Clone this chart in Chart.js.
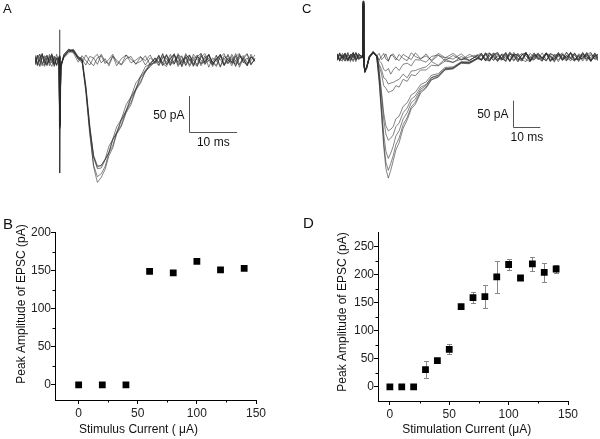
<!DOCTYPE html>
<html>
<head>
<meta charset="utf-8">
<title>EPSC input-output</title>
<script src="https://cdn.jsdelivr.net/npm/chart.js@4.4.1/dist/chart.umd.min.js"></script>
<style>
  body { margin: 0; background: #fff; }
  #fig { position: relative; width: 600px; height: 439px; background: #fff; }
  #fig canvas { position: absolute; }
</style>
</head>
<body>
<div id="fig">
  <canvas id="panelA" width="300" height="200" style="left:0;top:0"></canvas>
  <canvas id="panelC" width="300" height="200" style="left:300px;top:0"></canvas>
  <canvas id="panelB" width="300" height="239" style="left:0;top:200px"></canvas>
  <canvas id="panelD" width="300" height="239" style="left:300px;top:200px"></canvas>
</div>
<script>
// ----------------------------
// Panel A sweeps (ms, pA)
// ----------------------------
const timeA = [0,0.5,1,1.5,2,2.5,3,3.5,4,4.5,5, 5.1,5.2,5.4, 6,7,8,9,
  9.8,10.6,11.4,12.2,13,13.8,14.6,15.4,16.2,17,18,19,20,21,22,23,24,25,
  25.8,26.6,27.4,28.2,29,29.8,30.6,31.4,32.2,33,33.8,34.6,35.4,36.2,37,37.8,38.6,39.4,40.2,41,41.8,42.6,43.4,44.2,45,45.8];

const sweepA1 = [4,-7,2,9,-3,-8,5,1,-6,8,-2, 42,-157,-8, 4,12,10,-3,
  6,-1,-7,3,8,-4,2,-8,5,0,-6,7,1,-5,-2,6,-7,3,
  -4,9,-6,2,7,-9,-1,5,-7,8,0,-5,6,-10,3,-2,8,-6,1,-8,5,9,-3,-7,4,-1];
const sweepA2 = [-7,2,8,-4,-9,5,-1,6,-8,3,-3, 6,-85,-12, 8,15,12,2,
  -4,7,-2,-8,3,6,-5,1,8,-3,-7,2,5,-6,4,-1,7,-5,
  3,-8,7,-2,-6,9,-4,4,-9,1,7,-5,-2,8,-7,2,-10,6,0,-4,9,-6,3,-8,5,1];
const sweepA3 = [5,-3,-9,7,0,-6,8,-4,3,-8,2, 4,-90,-6, 3,10,14,4,
  1,-7,5,3,-6,8,-2,-5,6,-8,2,7,-4,0,5,-7,3,-3,
  7,-5,-9,4,8,-3,6,-7,1,-8,5,9,-6,0,-3,7,-9,2,6,-5,-1,8,-4,3,-7,2];
const sweepA4 = [-3,7,-8,2,6,-5,-1,9,-6,3,1, 5,-92,-8, 6,14,13,3,
  1,-38,-92,-135,-149,-146,-138,-120,-110,-93,-82,-62,-51,-32,-23,-9,-6,3,
  -7,5,2,-8,7,-4,-6,9,-1,4,-9,6,-3,7,-5,1,8,-7,-2,5,-9,3,6,-4,-1,7];
const sweepA5 = [7,-5,0,-8,4,6,-3,-9,5,2,-4, 3,-88,-10, 5,13,15,5,
  -2,-42,-96,-132,-147,-147,-138,-129,-111,-102,-84,-72,-53,-42,-24,-17,-6,-4,
  5,-4,8,-7,-1,6,-9,3,7,-5,-8,4,9,-2,-6,1,7,-8,3,-3,6,-10,2,8,-5,0];
const sweepA6 = [-6,4,8,-5,-1,7,-8,2,5,-7,3, 5,-95,-5, 4,12,14,2,
  0,-45,-103,-146,-162,-158,-148,-129,-119,-101,-90,-70,-59,-40,-30,-14,-9,-1,
  -8,3,6,-5,9,-7,1,-4,7,-9,5,0,-6,8,-3,-7,4,9,-5,2,-8,6,-1,-6,8,-2];
const sweepA7 = [2,-8,5,6,-4,-7,3,8,-2,-6,4, 4,-90,-9, 7,15,11,4,
  3,-36,-90,-134,-151,-150,-139,-128,-110,-101,-82,-70,-51,-40,-22,-15,-4,2,
  -3,8,-7,2,-5,7,4,-8,6,-1,-6,9,-4,3,-9,5,1,-7,8,-3,-5,6,2,-8,4,-1];
const sweepA8 = [-5,6,-2,9,-7,3,-4,7,-9,1,5, 6,-93,-7, 5,13,12,1,
  -1,-40,-98,-148,-170,-163,-152,-133,-122,-103,-92,-73,-62,-42,-32,-16,-9,-2,
  6,-7,-3,8,-5,4,-9,7,2,-6,5,-8,3,7,-4,-9,6,1,-5,8,-2,-7,4,9,-6,2];
const sweepsA = [sweepA1, sweepA2, sweepA3, sweepA4, sweepA5, sweepA6, sweepA7, sweepA8];

// ----------------------------
// Panel C sweeps (ms, pA)
// ----------------------------
const timeC = [0,1,2,3,4,5,6,7,8, 9.5,9.7,9.9,10.3,11,12,13.4,
  14.7,15.6,16.5,17.3,18.1,19,19.9,20.8,21.8,23,24.5,26,27.5,29,31,33,35,37.5,40,43,46,49,52,
  53.5,55,56.5,58,59.5,61,62.5,64,65.5,67,68.5,70,71.5,73,74.5,76,77.5,79,80.5,82,83.5,85,86.5,88,89.5,91,92.5,94,95.5,96.7];

const sweepC1 = [6,-8,3,-4,9,-6,1,7,-5, 1,104,-8,-27,-18,2,9,
  4,-6,1,7,-4,-8,3,6,-2,-7,5,0,-5,8,-3,2,-6,7,-1,-4,6,-7,3,
  -6,8,1,-7,5,-2,9,-8,3,6,-5,-9,7,0,-4,8,-6,2,-10,5,4,-7,9,-3,-6,6,1,-8,4,-2];
const sweepC2 = [-7,4,-1,8,-5,2,-9,6,0, -2,98,-12,-30,-22,-1,7,
  2,7,-5,-1,6,-8,4,2,-6,5,-3,-7,8,1,-4,6,-8,3,-2,7,-5,0,4,
  7,-5,-8,4,9,-3,-7,6,0,-9,5,8,-4,-6,3,-1,7,-8,5,2,-6,9,-3,-7,4,0,8,-5,-2,6];
const sweepC3 = [2,-6,7,-3,-8,5,-1,9,-4, 0,102,-9,-26,-19,1,8,
  3,-7,-12,-24,-27,-22,-33,-25,-19,-26,-14,-12,-17,-5,-6,-10,1,4,-7,3,-6,5,-2,
  6,-8,3,7,-5,-1,8,-7,4,-9,5,2,-6,7,-3,-8,6,1,-4,9,-7,3,-2,8,-6,-1,5,-9,7,0];
const sweepC4 = [-5,7,0,-8,4,-3,8,-6,2, 1,106,-7,-29,-21,0,10,
  2,-14,-24,-40,-43,-52,-50,-49,-46,-43,-33,-40,-27,-26,-22,-19,-9,-16,-4,-11,1,-7,3,
  -7,4,8,-6,2,-4,7,-9,5,3,-7,6,-2,8,-5,0,-8,7,3,-6,5,-3,9,-7,1,-4,6,-8,2,5];
const sweepC5 = [7,-4,-8,5,1,-7,6,-2,4, 2,100,-11,-28,-20,-2,8,
  1,-17,-33,-55,-60,-68,-66,-64,-55,-58,-43,-47,-34,-36,-25,-25,-16,-17,-8,-10,-4,-6,2,
  4,-7,6,2,-8,5,-3,9,-6,1,7,-5,-9,4,6,-2,8,-7,-4,5,0,-8,7,3,-6,9,-4,-1,6,-7];
const sweepC6 = [-3,8,-6,2,-7,5,3,-9,6, -1,103,-10,-27,-19,1,9,
  2,-25,-68,-108,-132,-142,-139,-134,-119,-114,-95,-88,-73,-68,-53,-48,-35,-32,-20,-19,-9,-10,-2,
  -5,7,-8,3,6,-4,-7,9,2,-6,4,8,-9,1,5,-3,7,-6,-1,8,-5,3,-8,6,0,-4,9,-7,2,4];
const sweepC7 = [6,-5,4,-8,7,-1,-6,8,-3, 1,108,-8,-30,-22,0,10,
  3,-28,-75,-120,-148,-160,-156,-150,-134,-127,-107,-98,-81,-75,-58,-53,-39,-35,-22,-21,-10,-10,-3,
  3,-7,8,-2,-6,5,-9,6,4,-4,-8,7,1,-5,8,-3,-7,6,2,-9,5,-1,7,-6,3,-8,4,9,-5,0];
const sweepC8 = [-7,5,-2,7,-6,3,8,-4,-1, 0,105,-9,-28,-21,2,8,
  1,-38,-95,-148,-181,-195,-185,-172,-152,-142,-119,-107,-88,-81,-62,-55,-40,-36,-23,-21,-11,-11,-2,
  -6,8,-4,2,-9,6,3,-7,9,-3,-5,7,-8,4,1,-6,8,-2,-7,5,-4,9,-1,-8,6,2,-5,7,-3,-6];
const sweepC9 = [4,-8,2,6,-4,-9,5,0,7, -2,101,-11,-29,-20,-1,9,
  0,-44,-106,-164,-202,-218,-205,-190,-169,-156,-130,-116,-96,-87,-66,-58,-43,-38,-24,-22,-11,-12,-3,
  7,-3,-7,5,8,-6,1,-8,6,3,-5,9,-7,-2,5,-4,8,-9,2,6,-6,0,7,-5,-3,8,-8,4,1,-4];
const sweepC10 = [-5,7,-3,5,-7,1,9,-6,3, 1,107,-7,-26,-18,2,11,
  2,-47,-112,-172,-214,-233,-218,-200,-179,-165,-137,-121,-100,-91,-69,-60,-44,-39,-25,-23,-12,-13,-4,
  -4,6,-7,8,-3,-6,5,2,-8,7,-4,9,-6,3,-1,-8,6,4,-7,2,8,-5,-3,7,-9,5,0,-6,8,-2];
const sweepsC = [sweepC1, sweepC2, sweepC3, sweepC4, sweepC5, sweepC6, sweepC7, sweepC8, sweepC9, sweepC10];

// ----------------------------
// Panel B and D input-output data
// ----------------------------
const currentB = [0, 20, 40, 60, 80, 100, 120, 140];
const peakB = [0, 0, 0, 149, 147, 162, 151, 153];
const ticksXB = [0, 50, 100, 150];
const ticksYB = [0, 50, 100, 150, 200];

const currentD = [0, 10, 20, 30, 40, 50, 60, 70, 80, 90, 100, 110, 120, 130, 140];
const peakD = [0, 0, 0, 31, 47, 67, 143, 159, 161, 196, 218, 194, 219, 204, 210];
const errD = [0, 0, 0, 15, 5, 9, 2, 10, 20, 29, 10, 3, 13, 17, 7];
const ticksXD = [0, 50, 100, 150];
const ticksYD = [0, 50, 100, 150, 200, 250];

const fontFamily = "Arial, 'Liberation Sans', Helvetica, sans-serif";
Chart.defaults.font.family = fontFamily;

// ----------------------------
// Plugins
// ----------------------------
const panelText = {
  id: "panelText",
  afterDraw(chart, args, opts) {
    const ctx = chart.ctx;
    (opts.items || []).forEach((it) => {
      ctx.save();
      ctx.fillStyle = "#111";
      ctx.font = (it.size || 12) + "px " + fontFamily;
      ctx.textAlign = it.align || "center";
      ctx.textBaseline = it.baseline || "middle";
      ctx.translate(it.x, it.y);
      if (it.rotate) ctx.rotate(it.rotate);
      ctx.fillText(it.text, 0, 0);
      ctx.restore();
    });
  },
};

const scaleBar = {
  id: "scaleBar",
  afterDatasetsDraw(chart, args, o) {
    const { ctx, scales: { x, y } } = chart;
    const px0 = Math.round(x.getPixelForValue(o.x0)) + 0.5;
    const px1 = x.getPixelForValue(o.x1);
    const pyTop = y.getPixelForValue(o.yTop);
    const pyBot = Math.round(y.getPixelForValue(o.yBottom)) + 0.5;
    ctx.save();
    ctx.strokeStyle = "#555";
    ctx.lineWidth = 1;
    ctx.beginPath();
    ctx.moveTo(px0, pyTop);
    ctx.lineTo(px0, pyBot);
    ctx.lineTo(px1, pyBot);
    ctx.stroke();
    ctx.fillStyle = "#111";
    ctx.font = "12px " + fontFamily;
    ctx.textAlign = "right";
    ctx.textBaseline = "middle";
    ctx.fillText(o.yLabel, px0 - 5, (pyTop + pyBot) / 2 + 1);
    ctx.textAlign = "center";
    ctx.fillText(o.xLabel, (px0 + px1) / 2, pyBot + 10);
    ctx.restore();
  },
};

const errorBars = {
  id: "errorBars",
  beforeDatasetsDraw(chart, args, o) {
    if (!o.errors) return;
    const { ctx, scales: { x, y } } = chart;
    const pts = chart.data.datasets[0].data;
    ctx.save();
    ctx.strokeStyle = "#888";
    ctx.lineWidth = 1;
    ctx.beginPath();
    pts.forEach((p, i) => {
      const e = o.errors[i];
      if (!e) return;
      const px = Math.round(x.getPixelForValue(p.x)) + 0.5;
      const top = Math.round(y.getPixelForValue(p.y + e)) + 0.5;
      const bot = Math.round(y.getPixelForValue(p.y - e)) + 0.5;
      ctx.moveTo(px, top); ctx.lineTo(px, bot);
      ctx.moveTo(px - 2.5, top); ctx.lineTo(px + 2.5, top);
      ctx.moveTo(px - 2.5, bot); ctx.lineTo(px + 2.5, bot);
    });
    ctx.stroke();
    ctx.restore();
  },
};

const minorTicks = {
  id: "minorTicks",
  afterDraw(chart, args, o) {
    const { ctx, scales: { x, y }, chartArea: a } = chart;
    ctx.save();
    ctx.strokeStyle = "#000";
    ctx.lineWidth = 1;
    ctx.beginPath();
    (o.x || []).forEach((v) => {
      const px = Math.round(x.getPixelForValue(v)) + 0.5;
      ctx.moveTo(px, a.bottom); ctx.lineTo(px, a.bottom + 2.5);
    });
    (o.y || []).forEach((v) => {
      const py = Math.round(y.getPixelForValue(v)) + 0.5;
      ctx.moveTo(a.left, py); ctx.lineTo(a.left - 2.5, py);
    });
    ctx.stroke();
    ctx.restore();
  },
};

const midpoints = (arr) => arr.slice(1).map((v, i) => (v + arr[i]) / 2);

// ----------------------------
// Sweep panels (A, C)
// ----------------------------
function sweepChart(id, times, sweeps, xMax, yMin, yMax, pad, bar, letter) {
  new Chart(document.getElementById(id), {
    type: "line",
    data: {
      datasets: sweeps.map((s) => ({
        data: times.map((t, i) => ({ x: t, y: s[i] })),
        borderColor: "rgba(40,40,40,0.72)",
        borderWidth: 0.8,
        pointRadius: 0,
        tension: 0,
      })),
    },
    options: {
      responsive: false,
      animation: false,
      events: [],
      layout: { padding: pad },
      plugins: {
        legend: { display: false },
        tooltip: { enabled: false },
        scaleBar: bar,
        panelText: { items: [letter] },
      },
      scales: {
        x: { type: "linear", display: false, min: 0, max: xMax },
        y: { display: false, min: yMin, max: yMax },
      },
    },
    plugins: [scaleBar, panelText],
  });
}

sweepChart("panelA", timeA, sweepsA, 46.875, -187.5, 55.6,
  { left: 35, right: 40, top: 20, bottom: 5 },
  { x0: 32.1, x1: 42.1, yTop: -50, yBottom: -100, yLabel: "50 pA", xLabel: "10 ms" },
  { text: "A", x: 3, y: 12.5, size: 13, align: "left", baseline: "alphabetic" });

sweepChart("panelC", timeC, sweepsC, 96.67, -265.4, 109.6,
  { left: 37, right: 2, top: 0, bottom: 5 },
  { x0: 65.3, x1: 75.3, yTop: -84, yBottom: -134, yLabel: "50 pA", xLabel: "10 ms" },
  { text: "C", x: 2, y: 12.7, size: 13, align: "left", baseline: "alphabetic" });

// ----------------------------
// Input-output panels (B, D)
// ----------------------------
function ioChart(id, cfg) {
  const axisLook = {
    grid: { drawOnChartArea: false, drawTicks: true, tickLength: 4, color: "#000", tickColor: "#000" },
    border: { display: true, color: "#000", width: 1 },
  };
  new Chart(document.getElementById(id), {
    type: "scatter",
    data: {
      datasets: [{
        data: cfg.xs.map((x, i) => ({ x: x, y: cfg.ys[i] })),
        pointStyle: "rect",
        pointRadius: 4.8,
        borderWidth: 0,
        backgroundColor: "#000",
      }],
    },
    options: {
      responsive: false,
      animation: false,
      events: [],
      layout: { padding: cfg.pad },
      plugins: {
        legend: { display: false },
        tooltip: { enabled: false },
        errorBars: { errors: cfg.errors },
        minorTicks: { x: midpoints(cfg.ticksX), y: midpoints(cfg.ticksY) },
        panelText: { items: cfg.texts },
      },
      scales: {
        x: {
          type: "linear", min: cfg.xMin, max: cfg.xMax,
          afterBuildTicks: (s) => { s.ticks = cfg.ticksX.map((v) => ({ value: v })); },
          afterFit: (s) => { s.height = cfg.xHeight; },
          ...axisLook,
          ticks: { font: { size: 12 }, color: "#222", padding: 2, maxRotation: 0 },
        },
        y: {
          min: cfg.yMin, max: cfg.yMax,
          afterBuildTicks: (s) => { s.ticks = cfg.ticksY.map((v) => ({ value: v })); },
          afterFit: (s) => { s.width = cfg.yWidth; },
          ...axisLook,
          ticks: { font: { size: 12 }, color: "#222", padding: 0 },
        },
      },
    },
    plugins: [errorBars, minorTicks, panelText],
  });
}

ioChart("panelB", {
  xs: currentB, ys: peakB, errors: null,
  ticksX: ticksXB, ticksY: ticksYB,
  xMin: -20, xMax: 150, yMin: -20, yMax: 200,
  pad: { left: 0, right: 44, top: 32.5, bottom: 0 },
  xHeight: 39, yWidth: 55,
  texts: [
    { text: "B", x: 3, y: 29.3, size: 15, align: "left", baseline: "alphabetic" },
    { text: "Stimulus Current ( \u03bcA)", x: 138.5, y: 230, size: 12 },
    { text: "Peak Amplitude of EPSC (pA)", x: 22, y: 104, size: 12, rotate: -Math.PI / 2 },
  ],
});

ioChart("panelD", {
  xs: currentD, ys: peakD, errors: errD,
  ticksX: ticksXD, ticksY: ticksYD,
  xMin: -10, xMax: 150, yMin: -25, yMax: 275,
  pad: { left: 0, right: 32, top: 32.5, bottom: 0 },
  xHeight: 38, yWidth: 78,
  texts: [
    { text: "D", x: 3, y: 28.3, size: 15, align: "left", baseline: "alphabetic" },
    { text: "Stimulation Current (\u03bcA)", x: 166.7, y: 230, size: 12 },
    { text: "Peak Amplitude of EPSC (pA)", x: 43, y: 112, size: 12, rotate: -Math.PI / 2 },
  ],
});
</script>
</body>
</html>
